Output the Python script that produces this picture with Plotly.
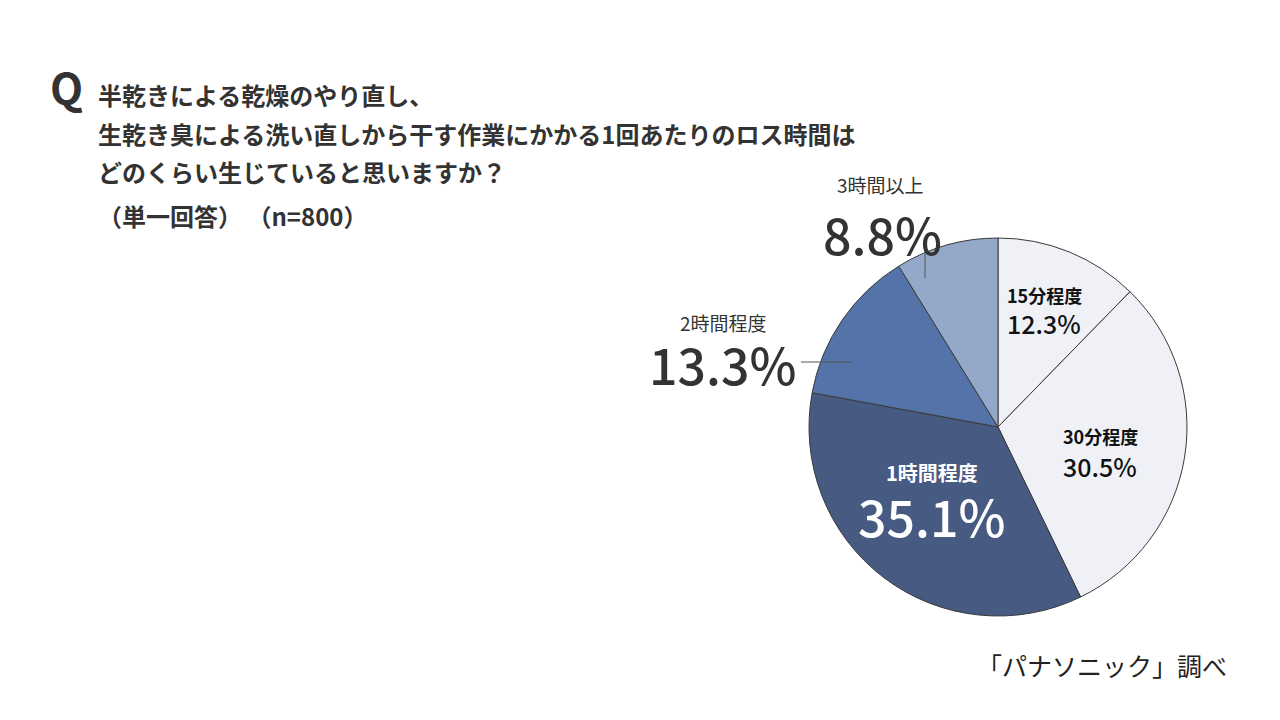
import math
import plotly.graph_objects as go

categories = ["15分程度", "30分程度", "1時間程度", "2時間程度", "3時間以上"]
values = [12.3, 30.5, 35.1, 13.3, 8.8]
colors = ["#eff1f6", "#eff1f6", "#475a82", "#5473a8", "#94a9ca"]

title_lines = [
    "半乾きによる乾燥のやり直し、",
    "生乾き臭による洗い直しから干す作業にかかる1回あたりのロス時間は",
    "どのくらい生じていると思いますか？",
    "（単一回答） （n=800）",
]
source_text = "「パナソニック」調べ"

W, H = 1280, 720
CX, CY, R = 998, 427, 189
FONT = "Noto Sans CJK JP"


def px(x):
    return x / W


def py(y):
    return 1 - y / H


fig = go.Figure()
fig.add_trace(go.Pie(
    labels=categories,
    values=values,
    sort=False,
    direction="clockwise",
    rotation=0,
    textinfo="none",
    hoverinfo="label+percent",
    marker=dict(colors=colors, line=dict(color="#3a3a3a", width=1)),
    domain=dict(x=[px(CX - R), px(CX + R)], y=[py(CY + R), py(CY - R)]),
    showlegend=False,
))

annotations = []
shapes = []

# Title
annotations.append(dict(x=px(48), y=py(86), xref="paper", yref="paper", text="<b>Q</b>",
                        showarrow=False, xanchor="left", yanchor="middle",
                        font=dict(family=FONT, size=43, color="#333333")))
title_y = [95, 133, 171, 215]
for i, line in enumerate(title_lines):
    annotations.append(dict(x=px(96), y=py(title_y[i]), xref="paper", yref="paper",
                            text="<b>" + line + "</b>", showarrow=False,
                            xanchor="left", yanchor="middle",
                            font=dict(family=FONT, size=24, color="#333333")))

annotations.append(dict(x=px(1229), y=py(665), xref="paper", yref="paper", text=source_text,
                        showarrow=False, xanchor="right", yanchor="middle",
                        font=dict(family=FONT, size=25, color="#222222")))

# slice label anchors computed from values
total = sum(values)
cum = 0
mids = []
for v in values:
    mids.append((cum + v / 2) / total * 360)
    cum += v


def pt(angle_deg, rfrac):
    a = math.radians(angle_deg)
    return CX + rfrac * R * math.sin(a), CY - rfrac * R * math.cos(a)


def pct(v):
    return f"{v:.1f}%"


# inside labels: (radius frac, name size, pct size, name color, pct color, name dy, pct dy, dx)
inside = {
    0: (0.665, 18, 25, "#111111", "#111111", -16, 12, -1),
    1: (0.58, 18, 25, "#111111", "#111111", -8, 22, -6),
    2: (0.5, 20, 50, "#ffffff", "#ffffff", -30, 13, -9),
}
for i, (rf, ns, ps, nc, pc, ndy, pdy, dx) in inside.items():
    x, y = pt(mids[i], rf)
    x += dx
    annotations.append(dict(x=px(x), y=py(y + ndy), xref="paper", yref="paper",
                            text="<b>" + categories[i] + "</b>", showarrow=False,
                            xanchor="center", yanchor="middle",
                            font=dict(family=FONT, size=ns, color=nc)))
    annotations.append(dict(x=px(x), y=py(y + pdy), xref="paper", yref="paper",
                            text=pct(values[i]), showarrow=False,
                            xanchor="center", yanchor="middle",
                            font=dict(family=FONT, size=ps, color=pc, weight=500)))

# outside labels
# 2時間程度
annotations.append(dict(x=px(723), y=py(322), xref="paper", yref="paper", text=categories[3],
                        showarrow=False, xanchor="center", yanchor="middle",
                        font=dict(family=FONT, size=19, color="#333333")))
annotations.append(dict(x=px(722), y=py(363), xref="paper", yref="paper", text=pct(values[3]),
                        showarrow=False, xanchor="center", yanchor="middle",
                        font=dict(family=FONT, size=50, color="#333333", weight=500)))
shapes.append(dict(type="line", xref="paper", yref="paper", x0=px(801), y0=py(362),
                   x1=px(852), y1=py(362), line=dict(color="#555555", width=1)))
# 3時間以上
annotations.append(dict(x=px(880), y=py(185), xref="paper", yref="paper", text=categories[4],
                        showarrow=False, xanchor="center", yanchor="middle",
                        font=dict(family=FONT, size=19, color="#333333")))
annotations.append(dict(x=px(882), y=py(233), xref="paper", yref="paper", text=pct(values[4]),
                        showarrow=False, xanchor="center", yanchor="middle",
                        font=dict(family=FONT, size=50, color="#333333", weight=500)))
shapes.append(dict(type="line", xref="paper", yref="paper", x0=px(925), y0=py(250),
                   x1=px(925), y1=py(278), line=dict(color="#555555", width=1)))

fig.update_layout(
    width=W, height=H,
    margin=dict(l=0, r=0, t=0, b=0),
    paper_bgcolor="#ffffff", plot_bgcolor="#ffffff",
    annotations=annotations, shapes=shapes,
    font=dict(family=FONT),
)
fig.write_html("out.html", config={"displayModeBar": False},
               post_script="document.body.style.margin='0';document.body.style.overflow='hidden';")
